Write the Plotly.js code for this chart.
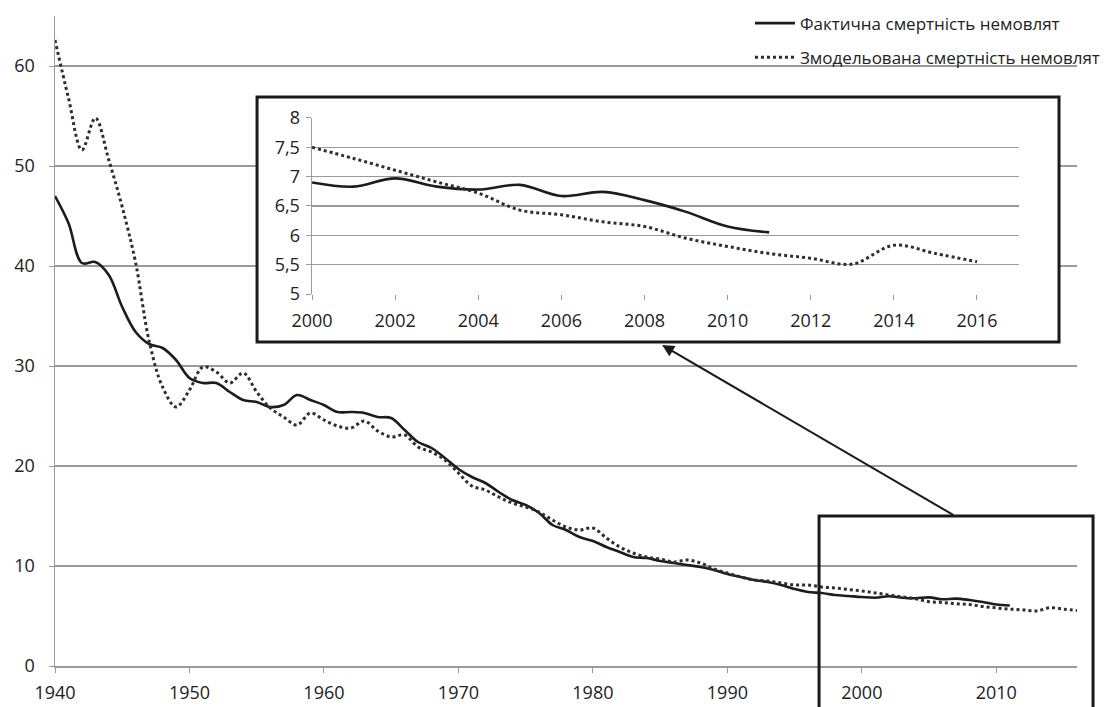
<!DOCTYPE html>
<html>
<head>
<meta charset="utf-8">
<script src="https://cdn.plot.ly/plotly-3.0.1.min.js"></script>
<style>html,body{margin:0;padding:0;background:#fff;}#chart{width:1117px;height:707px;}</style>
</head>
<body>
<div id="chart"></div>
<script>
const actualName = 'Фактична смертність немовлят';
const modelName = 'Змодельована смертність немовлят';

const actualYears = [1940,1941,1942,1943,1944,1945,1946,1947,1948,1949,1950,1951,1952,1953,1954,1955,1956,1957,1958,1959,1960,1961,1962,1963,1964,1965,1966,1967,1968,1969,1970,1971,1972,1973,1974,1975,1976,1977,1978,1979,1980,1981,1982,1983,1984,1985,1986,1987,1988,1989,1990,1991,1992,1993,1994,1995,1996,1997,1998,1999,2000,2001,2002,2003,2004,2005,2006,2007,2008,2009,2010,2011];
const actualValues = [47.0,44.3,40.3,40.4,39.1,35.9,33.4,32.2,31.8,30.6,28.8,28.3,28.3,27.4,26.6,26.4,25.9,26.1,27.1,26.6,26.1,25.4,25.4,25.3,24.9,24.8,23.6,22.4,21.8,20.8,19.7,18.9,18.3,17.4,16.6,16.1,15.3,14.1,13.6,12.9,12.5,11.9,11.4,10.9,10.8,10.5,10.3,10.1,9.9,9.6,9.2,8.9,8.6,8.4,8.1,7.7,7.4,7.3,7.1,7.0,6.9,6.83,6.97,6.83,6.78,6.86,6.67,6.74,6.6,6.4,6.15,6.05];

const modelYears = [1940,1941,1942,1943,1944,1945,1946,1947,1948,1949,1950,1951,1952,1953,1954,1955,1956,1957,1958,1959,1960,1961,1962,1963,1964,1965,1966,1967,1968,1969,1970,1971,1972,1973,1974,1975,1976,1977,1978,1979,1980,1981,1982,1983,1984,1985,1986,1987,1988,1989,1990,1991,1992,1993,1994,1995,1996,1997,1998,1999,2000,2001,2002,2003,2004,2005,2006,2007,2008,2009,2010,2011,2012,2013,2014,2015,2016];
const modelValues = [62.6,56.8,51.6,54.8,50.6,45.9,40.3,32.5,27.9,25.9,27.6,29.9,29.4,28.3,29.3,27.4,25.8,24.9,24.1,25.3,24.6,24.0,23.8,24.5,23.5,22.9,23.1,21.9,21.4,20.6,19.3,18.0,17.6,16.9,16.3,15.9,15.4,14.6,13.9,13.6,13.8,12.8,11.9,11.3,10.9,10.7,10.4,10.6,10.3,9.7,9.3,8.9,8.6,8.5,8.3,8.1,8.1,7.9,7.8,7.65,7.5,7.31,7.11,6.91,6.72,6.43,6.35,6.23,6.15,5.95,5.81,5.69,5.61,5.51,5.83,5.69,5.55];

const mainXTicks = [1940,1950,1960,1970,1980,1990,2000,2010];
const mainYTicks = [0,10,20,30,40,50,60];
const insetXTicks = [2000,2002,2004,2006,2008,2010,2012,2014,2016];
const insetYTicks = [5,5.5,6,6.5,7,7.5,8];
const insetStart = 2000;

function sliceFrom(years, values, start){
  const x=[],y=[];
  years.forEach((yr,i)=>{ if(yr>=start){x.push(yr);y.push(values[i]);} });
  return {x,y};
}
const aIn = sliceFrom(actualYears, actualValues, insetStart);
const mIn = sliceFrom(modelYears, modelValues, insetStart);

const solidLine = {color:'#1c1c1c', width:2.6, shape:'spline', smoothing:1};
const dotLine = {color:'#2e2e2e', width:3, dash:'dot', shape:'spline', smoothing:1};

const traces = [
  {x:actualYears, y:actualValues, name:actualName, type:'scatter', mode:'lines', line:solidLine, legendgroup:'a', xaxis:'x', yaxis:'y', hoverinfo:'skip'},
  {x:modelYears, y:modelValues, name:modelName, type:'scatter', mode:'lines', line:dotLine, legendgroup:'b', xaxis:'x', yaxis:'y', hoverinfo:'skip'},
  {x:[null], y:[null], type:'scatter', mode:'lines', showlegend:false, xaxis:'x2', yaxis:'y2', hoverinfo:'skip'},
  {x:aIn.x, y:aIn.y, name:actualName, type:'scatter', mode:'lines', line:solidLine, showlegend:false, xaxis:'x3', yaxis:'y3', hoverinfo:'skip'},
  {x:mIn.x, y:mIn.y, name:modelName, type:'scatter', mode:'lines', line:dotLine, showlegend:false, xaxis:'x3', yaxis:'y3', hoverinfo:'skip'}
];

const font = {family:'"Open Sans", "Noto Sans", sans-serif', size:18, color:'#222'};
const grid = '#9a9a9a';

const layout = {
  width:1117, height:707,
  margin:{l:55, r:40, t:16, b:41, autoexpand:false},
  paper_bgcolor:'#fff', plot_bgcolor:'#fff',
  font:font,
  separators:', ',
  showlegend:true,
  legend:{x:0.68, xanchor:'left', y:1.016, yanchor:'top', bgcolor:'rgba(0,0,0,0)', font:{family:font.family, size:17, color:'#222'}, traceorder:'grouped', tracegroupgap:9, itemwidth:40},
  xaxis:{domain:[0,1], range:[1940,2016], tickvals:mainXTicks, showgrid:false, zeroline:false, showline:true, linecolor:grid, linewidth:1.5, ticks:'outside', ticklen:5, tickcolor:grid, ticklabelstandoff:5, anchor:'y'},
  yaxis:{domain:[0,1], range:[0,65], tickvals:mainYTicks, showgrid:true, gridcolor:grid, gridwidth:1.5, zeroline:false, showline:true, linecolor:grid, linewidth:1.5, ticks:'outside', ticklen:5, tickcolor:grid, ticklabelstandoff:10, anchor:'x'},
  xaxis2:{domain:[0.1977,0.9824], range:[0,1], visible:false, anchor:'y2'},
  yaxis2:{domain:[0.4985,0.8754], range:[0,1], visible:false, anchor:'x2'},
  xaxis3:{domain:[0.2515,0.9428], range:[2000,2017], tickvals:insetXTicks, showgrid:false, zeroline:false, showline:false, ticks:'outside', ticklen:5, tickcolor:grid, ticklabelstandoff:5, anchor:'y3'},
  yaxis3:{domain:[0.5723,0.8431], range:[5,8], tickvals:insetYTicks, showgrid:true, gridcolor:grid, gridwidth:1.5, zeroline:false, showline:true, linecolor:grid, linewidth:1.5, ticks:'outside', ticklen:5, tickcolor:grid, ticklabelstandoff:2, anchor:'x3'},
  shapes:[
    {type:'rect', xref:'paper', yref:'paper', x0:0.1977, x1:0.9824, y0:0.4985, y1:0.8754, line:{color:'#1a1a1a', width:3}, fillcolor:'rgba(0,0,0,0)', layer:'above'},
    {type:'rect', xref:'paper', yref:'paper', x0:0.7476, x1:1.0157, y0:-0.066, y1:0.2308, line:{color:'#1a1a1a', width:3}, fillcolor:'rgba(0,0,0,0)', layer:'above'}
  ],
  annotations:[
    {xref:'paper', yref:'paper', x:0.594, y:0.4938, text:'', showarrow:true, ax:293, ay:171, axref:'pixel', ayref:'pixel', arrowhead:2, arrowsize:1.2, arrowwidth:2, arrowcolor:'#1a1a1a'}
  ]
};

Plotly.newPlot('chart', traces, layout, {staticPlot:true, displayModeBar:false});
</script>
</body>
</html>
